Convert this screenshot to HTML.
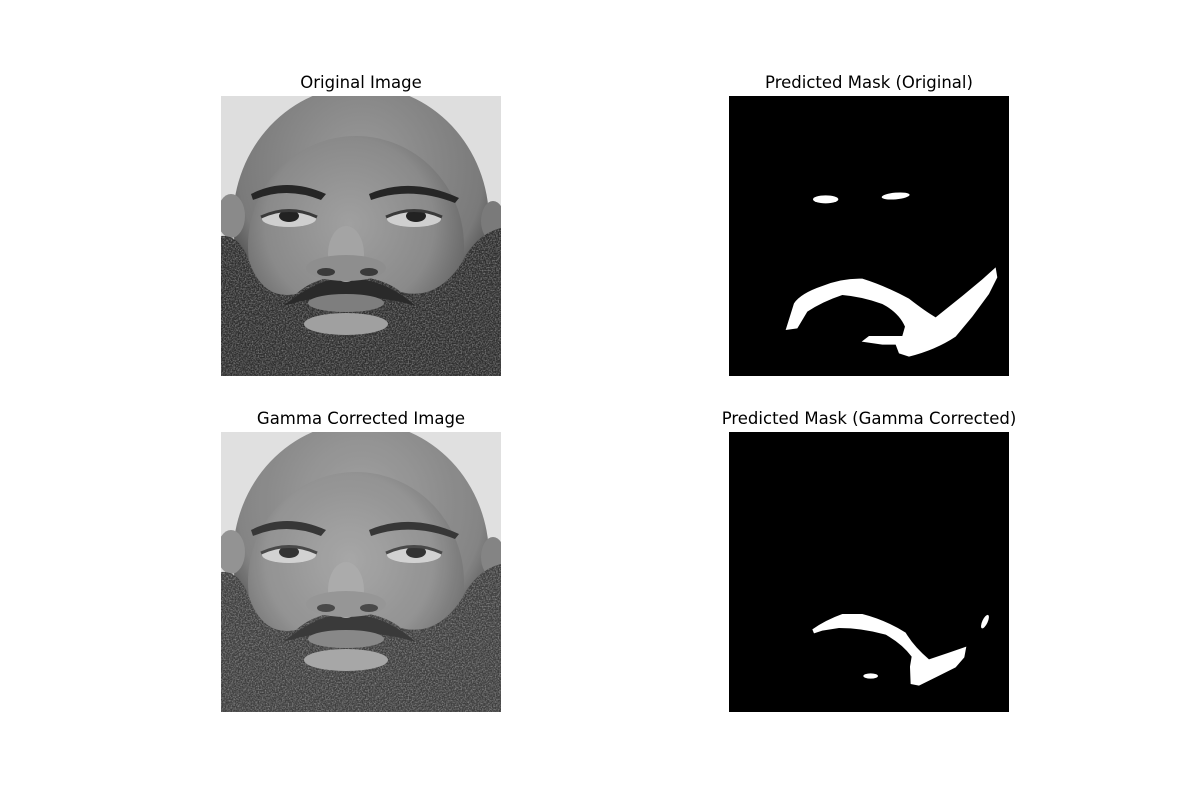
<!DOCTYPE html>
<html><head><meta charset="utf-8"><style>
html,body{margin:0;padding:0;background:#fff;}
svg text{font-family:"DejaVu Sans","Liberation Sans",sans-serif;font-size:16.5px;fill:#000;}
</style></head><body>
<svg width="1200" height="800" viewBox="0 0 1200 800" xmlns="http://www.w3.org/2000/svg">
<defs>
<radialGradient id="skin" cx="0.47" cy="0.4" r="0.6">
<stop offset="0" stop-color="#a0a0a0"/><stop offset="0.65" stop-color="#8a8a8a"/><stop offset="1" stop-color="#606060"/>
</radialGradient>
<radialGradient id="head" cx="0.5" cy="0.3" r="0.6">
<stop offset="0" stop-color="#9a9a9a"/><stop offset="0.8" stop-color="#7a7a7a"/><stop offset="1" stop-color="#4a4a4a"/>
</radialGradient>
<filter id="noise" x="0" y="0" width="1" height="1"><feTurbulence type="fractalNoise" baseFrequency="0.7" numOctaves="2"/><feColorMatrix type="matrix" values="0 0 0 0 0.5  0 0 0 0 0.5  0 0 0 0 0.5  1.2 0 0 0 -0.45"/></filter>
<clipPath id="clip"><rect x="0" y="0" width="280" height="280"/></clipPath>
<clipPath id="beardclip"><path d="M0,140 Q18,138 28,165 Q42,205 75,198 Q95,180 125,180 Q160,180 180,196 Q215,205 240,168 Q255,138 280,132 L280,280 L0,280 Z"/></clipPath>
<g id="face" clip-path="url(#clip)">
<rect x="0" y="0" width="280" height="280" fill="#dedede"/>
<ellipse cx="140" cy="125" rx="128" ry="135" fill="url(#head)"/>
<ellipse cx="135" cy="150" rx="108" ry="110" fill="url(#skin)"/>
<ellipse cx="10" cy="120" rx="14" ry="22" fill="#8a8a8a"/>
<ellipse cx="272" cy="125" rx="12" ry="20" fill="#7a7a7a"/>
<g clip-path="url(#beardclip)">
<rect x="0" y="130" width="280" height="150" fill="#2e2e2e"/>
<rect x="0" y="130" width="280" height="150" filter="url(#noise)"/>
</g>
<path d="M62,210 Q100,180 125,183 Q160,180 195,210 Q160,200 125,200 Q95,200 62,210 Z" fill="#2a2a2a"/>
<ellipse cx="125" cy="207" rx="38" ry="9" fill="#7e7e7e"/>
<ellipse cx="125" cy="228" rx="42" ry="11" fill="#a0a0a0"/>
<path d="M30,98 Q65,80 105,98 L100,104 Q65,90 32,104 Z" fill="#262626"/>
<path d="M148,98 Q190,80 238,102 L234,107 Q190,90 150,104 Z" fill="#262626"/>
<ellipse cx="68" cy="123" rx="27" ry="8" fill="#cfcfcf"/>
<ellipse cx="68" cy="120" rx="10" ry="6" fill="#222"/>
<path d="M40,121 Q68,108 96,121" stroke="#3a3a3a" stroke-width="3" fill="none"/>
<ellipse cx="193" cy="123" rx="27" ry="8" fill="#cfcfcf"/>
<ellipse cx="195" cy="120" rx="10" ry="6" fill="#222"/>
<path d="M165,121 Q193,108 221,121" stroke="#3a3a3a" stroke-width="3" fill="none"/>
<ellipse cx="125" cy="158" rx="18" ry="28" fill="#a4a4a4"/>
<ellipse cx="125" cy="172" rx="40" ry="13" fill="#8e8e8e"/>
<ellipse cx="105" cy="176" rx="9" ry="4" fill="#3a3a3a"/>
<ellipse cx="148" cy="176" rx="9" ry="4" fill="#3a3a3a"/>
</g>
</defs>

<text x="361" y="88" text-anchor="middle">Original Image</text>
<use href="#face" x="221" y="96"/>

<text x="869" y="88" text-anchor="middle">Predicted Mask (Original)</text>
<g>
<rect x="729" y="96" width="280" height="280" fill="#000"/>
<g transform="translate(729,180) scale(0.3333)" fill="#fff">
<ellipse cx="290" cy="58" rx="38" ry="12"/>
<ellipse cx="500" cy="48" rx="42" ry="10" transform="rotate(-5 500 48)"/>
<path d="M170,450 L195,370 Q215,340 280,318 Q340,294 400,296 Q470,318 540,356 Q590,395 620,412 L700,348 L760,298 L800,262 L805,292 L780,342 L730,410 L680,470 Q620,510 540,530 L510,520 L500,494 L460,494 L398,485 L420,468 L520,468 L528,440 Q510,398 460,372 Q400,350 340,345 Q280,365 235,395 L205,445 Z"/>
</g>
</g>

<text x="361" y="424" text-anchor="middle">Gamma Corrected Image</text>
<g>
<use href="#face" x="221" y="432"/>
<rect x="221" y="432" width="280" height="280" fill="#fff" opacity="0.08"/>
</g>

<text x="869" y="424" text-anchor="middle">Predicted Mask (Gamma Corrected)</text>
<g>
<rect x="729" y="432" width="280" height="280" fill="#000"/>
<g transform="translate(729,600) scale(0.3333)" fill="#fff">
<path d="M250,88 Q290,60 340,42 L400,42 Q470,60 530,98 Q555,140 600,178 L660,158 L712,140 L706,172 L680,202 L620,232 L570,257 L545,252 L543,200 L548,170 Q520,132 470,104 Q400,84 330,84 L280,92 L255,100 Z"/>
<ellipse cx="425" cy="228" rx="22" ry="8"/>
<ellipse cx="768" cy="65" rx="8" ry="22" transform="rotate(25 768 65)"/>
</g>
</g>
</svg>
</body></html>
